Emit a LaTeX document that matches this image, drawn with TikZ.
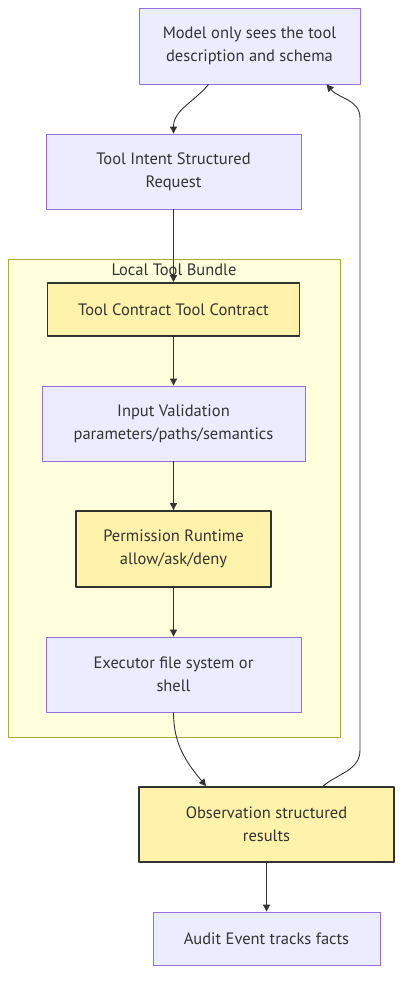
\documentclass[tikz,border=0pt]{standalone}
\usepackage{fontspec}
\setmainfont{PT Sans}
\usetikzlibrary{arrows.meta}
\definecolor{lavfill}{HTML}{ECECFF}
\definecolor{lavline}{HTML}{9370DB}
\definecolor{bundlefill}{HTML}{FFFFDE}
\definecolor{bundleline}{HTML}{AAAA33}
\definecolor{hotfill}{HTML}{FFF2AA}
\definecolor{ink}{HTML}{333333}
\begin{document}
\begin{tikzpicture}[x=1pt,y=-1pt,>={Triangle[length=7pt,width=7pt]}, font=\fontsize{16.5}{23}\selectfont, line join=round, text=ink]
\tikzset{plain/.style={draw=lavline,fill=lavfill,line width=0.8pt,align=center,inner sep=0pt},
  hot/.style={draw=ink,fill=hotfill,line width=1.8pt,align=center,inner sep=0pt},
  link/.style={draw=ink,line width=0.9pt,->}}
\useasboundingbox (0,0) rectangle (410,992);
%	cluster
\draw[bundleline,fill=bundlefill,line width=0.8pt] (8,259) rectangle (340,737);
\node (bundle) at (174,270) {Local Tool Bundle};
%	nodes
\node[plain,minimum width=221pt,minimum height=76pt] (model) at (249.5,46) {Model only sees the tool\\description and schema};
\node[plain,minimum width=255pt,minimum height=75pt] (intent) at (173.5,171.5) {Tool Intent Structured\\Request};
\node[hot,minimum width=252pt,minimum height=53pt] (contract) at (173.5,309.5) {Tool Contract Tool Contract};
\node[plain,minimum width=263pt,minimum height=75pt] (valid) at (173.5,423.5) {Input Validation\\parameters/paths/semantics};
\node[hot,minimum width=195pt,minimum height=76pt] (perm) at (173.5,549) {Permission Runtime\\allow/ask/deny};
\node[plain,minimum width=255pt,minimum height=75pt] (exec) at (173.5,674.5) {Executor file system or\\shell};
\node[hot,minimum width=255pt,minimum height=75pt] (obs) at (266.5,824.5) {Observation structured\\results};
\node[plain,minimum width=227pt,minimum height=53pt] (audit) at (266.5,938.5) {Audit Event tracks facts};
\coordinate (back1) at (360,750);
\coordinate (back2) at (360,118);
%	connectors
\draw[link] ([xshift=70pt]model.south west) to[out=-130,in=90] (intent.north);
\draw[link] (intent) -- (contract);
\draw[link] (contract) -- (valid);
\draw[link] (valid) -- (perm);
\draw[link] (perm) -- (exec);
\draw[link] (exec.south) to[out=-90,in=130] ([xshift=68pt]obs.north west);
\draw[link] ([xshift=185pt]obs.north west) to[out=40,in=-90] (back1) -- (back2) to[out=90,in=-50] ([xshift=188pt]model.south west);
\draw[link] (obs) -- (audit);
\end{tikzpicture}
\end{document}
